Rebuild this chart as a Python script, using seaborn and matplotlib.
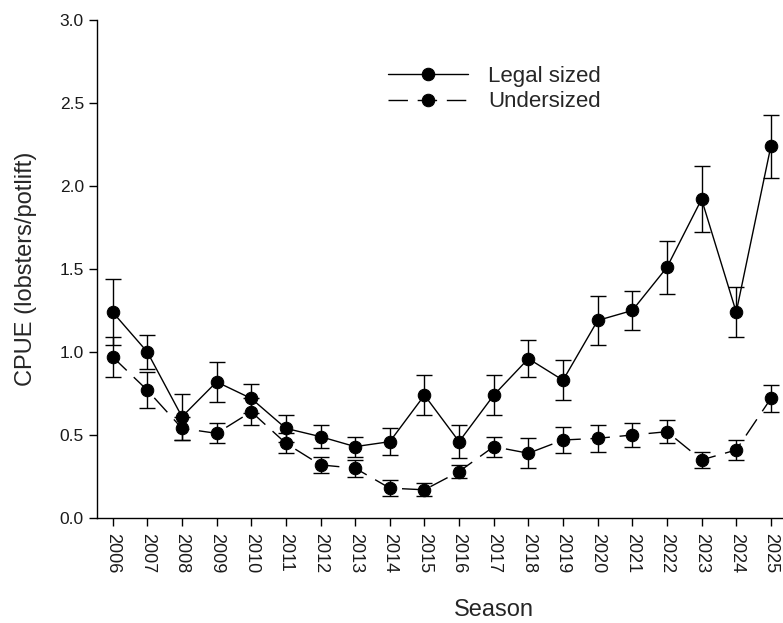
import numpy as np
import pandas as pd
import matplotlib
matplotlib.use('Agg')
import matplotlib.pyplot as plt
import seaborn as sns

# data
seasons = list(range(2006, 2026))
legal = [1.24, 1.00, 0.61, 0.82, 0.72, 0.54, 0.49, 0.43, 0.46, 0.74,
         0.46, 0.74, 0.96, 0.83, 1.19, 1.25, 1.51, 1.92, 1.24, 2.24]
legal_se = [0.20, 0.10, 0.14, 0.12, 0.09, 0.08, 0.07, 0.06, 0.08, 0.12,
            0.10, 0.12, 0.11, 0.12, 0.15, 0.12, 0.16, 0.20, 0.15, 0.19]
under = [0.97, 0.77, 0.54, 0.51, 0.64, 0.45, 0.32, 0.30, 0.18, 0.17,
         0.28, 0.43, 0.39, 0.47, 0.48, 0.50, 0.52, 0.35, 0.41, 0.72]
under_se = [0.12, 0.11, 0.07, 0.06, 0.08, 0.06, 0.05, 0.05, 0.05, 0.04,
            0.04, 0.06, 0.09, 0.08, 0.08, 0.07, 0.07, 0.05, 0.06, 0.08]
groups = ['Legal sized', 'Undersized']

df = pd.DataFrame({
    'Season': seasons * 2,
    'CPUE': legal + under,
    'Size': [groups[0]] * len(seasons) + [groups[1]] * len(seasons),
})

sns.set_style('ticks')
plt.rcParams['font.family'] = ['Liberation Sans', 'DejaVu Sans']

fig = plt.figure(figsize=(7.83, 6.23), dpi=100)
ax = fig.add_axes([0.124, 0.1685, 0.876, 0.7995])

# error bars first so the markers sit on top
ax.errorbar(seasons, legal, yerr=legal_se, fmt='none', ecolor='black',
            elinewidth=1, capsize=5.5, capthick=1, zorder=2)
ax.errorbar(seasons, under, yerr=under_se, fmt='none', ecolor='black',
            elinewidth=1, capsize=5.5, capthick=1, zorder=2)

sns.lineplot(data=df, x='Season', y='CPUE', hue='Size', style='Size',
             palette={'Legal sized': 'black', 'Undersized': 'black'},
             markers={'Legal sized': 'o', 'Undersized': 'o'},
             dashes={'Legal sized': '', 'Undersized': (14, 7)},
             markersize=9, markeredgecolor='black', linewidth=1,
             ax=ax, zorder=3)

handles, labels = ax.get_legend_handles_labels()
hl = [(h, l) for h, l in zip(handles, labels) if l in groups]
ax.legend([h for h, _ in hl], [l for _, l in hl], loc='upper left',
          bbox_to_anchor=(0.395, 0.948), frameon=False, fontsize=16,
          handlelength=3.6, handletextpad=0.9, labelspacing=0.2)

ax.set_xlim(2005.55, 2025.35)
ax.set_ylim(0, 3.0)
ax.set_yticks(np.arange(0, 3.01, 0.5))
ax.set_yticklabels([f'{v:.1f}' for v in np.arange(0, 3.01, 0.5)], fontsize=12.5, color='#1a1a1a')
ax.set_xticks(seasons)
ax.set_xticklabels([str(s) for s in seasons], rotation=270, fontsize=13, color='#1a1a1a')
ax.tick_params(axis='both', direction='out', length=6, width=1, color='black')
ax.tick_params(axis='x', pad=5)
ax.set_xlabel('Season', fontsize=17)
ax.set_ylabel('CPUE (lobsters/potlift)', fontsize=17)
ax.xaxis.set_label_coords(0.579, -0.163)
ax.yaxis.set_label_coords(-0.088, 0.5)

sns.despine(ax=ax)
for s in ['left', 'bottom']:
    ax.spines[s].set_color('black')
    ax.spines[s].set_linewidth(1)

fig.savefig('out.png', dpi=100)
